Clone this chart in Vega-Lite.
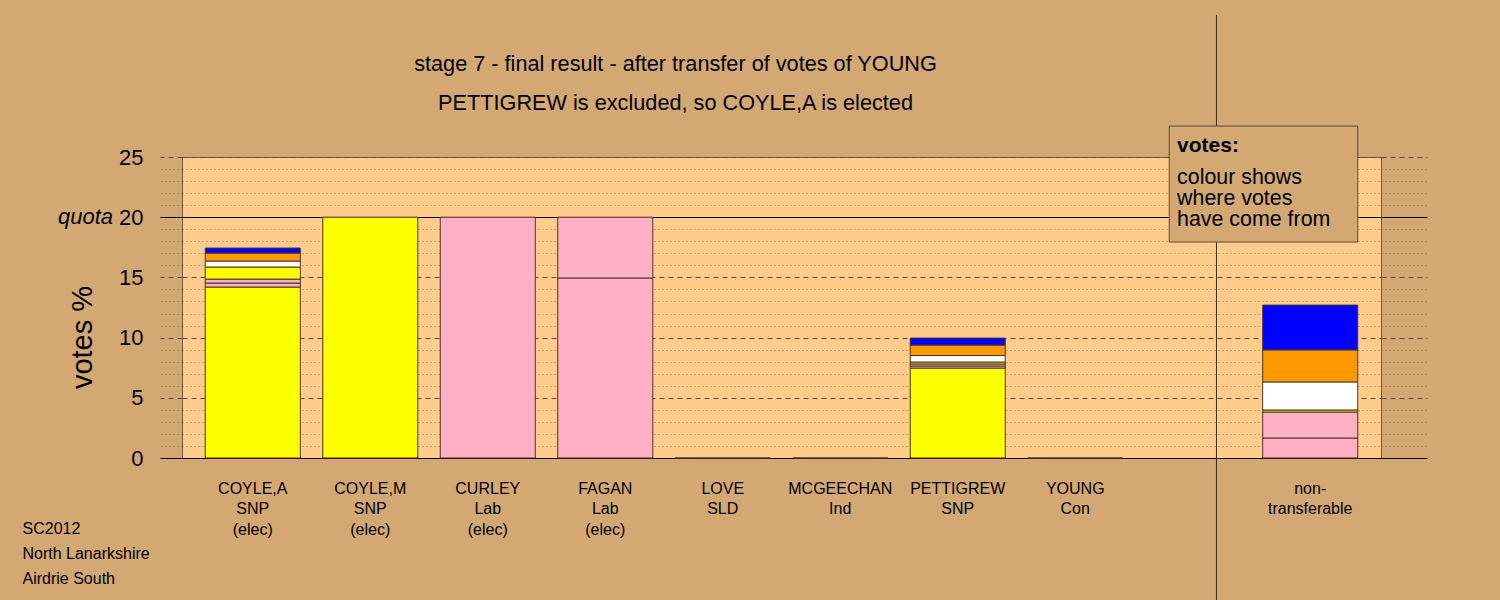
{
  "$schema": "https://vega.github.io/schema/vega-lite/v6.json",
  "width": 1199,
  "height": 301,
  "autosize": "none",
  "padding": {"left": 182, "top": 157, "right": 119, "bottom": 142},
  "background": "#d4a873",
  "config": {
    "font": "Liberation Sans",
    "view": {"fill": "#ffcc8c", "stroke": "#6e5a44", "strokeWidth": 1}
  },
  "title": {
    "text": ["stage 7 - final result - after transfer of votes of YOUNG", "PETTIGREW is excluded, so COYLE,A is elected"],
    "fontSize": 21.7,
    "fontWeight": "normal",
    "font": "Liberation Sans",
    "color": "#000000",
    "lineHeight": 39,
    "anchor": "middle",
    "baseline": "bottom",
    "dx": -106,
    "offset": -122
  },
  "data": {"values": [{}]},
  "datasets": {
    "votes": [
      {"candidate": "COYLE,A|SNP|(elec)", "party": "SNP", "seq": 1, "pct": 14.2},
      {"candidate": "COYLE,A|SNP|(elec)", "party": "Lab", "seq": 2, "pct": 0.33},
      {"candidate": "COYLE,A|SNP|(elec)", "party": "Lab", "seq": 3, "pct": 0.33},
      {"candidate": "COYLE,A|SNP|(elec)", "party": "SNP", "seq": 4, "pct": 1.0},
      {"candidate": "COYLE,A|SNP|(elec)", "party": "Ind", "seq": 5, "pct": 0.5},
      {"candidate": "COYLE,A|SNP|(elec)", "party": "SLD", "seq": 6, "pct": 0.66},
      {"candidate": "COYLE,A|SNP|(elec)", "party": "Con", "seq": 7, "pct": 0.42},
      {"candidate": "COYLE,M|SNP|(elec)", "party": "SNP", "seq": 1, "pct": 20.0},
      {"candidate": "CURLEY|Lab|(elec)", "party": "Lab", "seq": 1, "pct": 20.0},
      {"candidate": "FAGAN|Lab|(elec)", "party": "Lab", "seq": 1, "pct": 14.95},
      {"candidate": "FAGAN|Lab|(elec)", "party": "Lab", "seq": 2, "pct": 5.05},
      {"candidate": "LOVE|SLD", "party": "SLD", "seq": 1, "pct": 0},
      {"candidate": "MCGEECHAN|Ind", "party": "Ind", "seq": 1, "pct": 0},
      {"candidate": "PETTIGREW|SNP", "party": "SNP", "seq": 1, "pct": 7.47},
      {"candidate": "PETTIGREW|SNP", "party": "Lab", "seq": 2, "pct": 0.17},
      {"candidate": "PETTIGREW|SNP", "party": "Lab", "seq": 3, "pct": 0.17},
      {"candidate": "PETTIGREW|SNP", "party": "SNP", "seq": 4, "pct": 0.16},
      {"candidate": "PETTIGREW|SNP", "party": "Ind", "seq": 5, "pct": 0.54},
      {"candidate": "PETTIGREW|SNP", "party": "SLD", "seq": 6, "pct": 0.87},
      {"candidate": "PETTIGREW|SNP", "party": "Con", "seq": 7, "pct": 0.58},
      {"candidate": "YOUNG|Con", "party": "Con", "seq": 1, "pct": 0},
      {"candidate": "non-|transferable", "party": "Lab", "seq": 2, "pct": 1.66},
      {"candidate": "non-|transferable", "party": "Lab", "seq": 3, "pct": 2.16},
      {"candidate": "non-|transferable", "party": "SNP", "seq": 4, "pct": 0.17},
      {"candidate": "non-|transferable", "party": "Ind", "seq": 5, "pct": 2.33},
      {"candidate": "non-|transferable", "party": "SLD", "seq": 6, "pct": 2.66},
      {"candidate": "non-|transferable", "party": "Con", "seq": 7, "pct": 3.72}
    ]
  },
  "resolve": {"axis": {"y": "independent"}},
  "layer": [
    {
      "data": {"name": "votes"},
      "mark": {"type": "bar", "stroke": "#4a3626", "strokeWidth": 1},
      "encoding": {
        "x": {
          "field": "candidate",
          "type": "nominal",
          "sort": null,
          "scale": {
            "domain": ["COYLE,A|SNP|(elec)", "COYLE,M|SNP|(elec)", "CURLEY|Lab|(elec)", "FAGAN|Lab|(elec)", "LOVE|SLD", "MCGEECHAN|Ind", "PETTIGREW|SNP", "YOUNG|Con", " ", "non-|transferable"],
            "paddingInner": 0.191,
            "paddingOuter": 0.198
          },
          "axis": {
            "title": ["SC2012", "North Lanarkshire", "Airdrie South"],
            "titleX": -160,
            "titleY": 62,
            "titleAlign": "left",
            "titleAnchor": null,
            "titleBaseline": "top",
            "titleFontSize": 16,
            "titleFontWeight": "normal",
            "titleLineHeight": 25,
            "titleColor": "#000000",
            "titleAngle": 0,
            "labelExpr": "split(datum.label, '|')",
            "labelAngle": 0,
            "labelFontSize": 16,
            "labelLineHeight": 20.5,
            "labelColor": "#000000",
            "labelPadding": 22,
            "ticks": false,
            "domain": true,
            "domainColor": "#000000",
            "grid": false
          }
        },
        "y": {
          "field": "pct",
          "type": "quantitative",
          "stack": "zero",
          "scale": {"domain": [0, 25], "nice": false, "zero": true},
          "axis": {
            "title": "votes %",
            "titleFontSize": 29,
            "titleFontWeight": "normal",
            "titleColor": "#000000",
            "titlePadding": 21,
            "titleY": 180,
            "values": [0,1,2,3,4,5,6,7,8,9,10,11,12,13,14,15,16,17,18,19,20,21,22,23,24,25],
            "labelExpr": "datum.value % 5 === 0 ? datum.label : ''",
            "labelFontSize": 22,
            "labelColor": "#000000",
            "labelPadding": 17,
            "domain": false,
            "tickSize": 22,
            "tickColor": {"condition": {"test": "datum.value === 0 || datum.value === 20", "value": "#000000"}, "value": "#5e4c3a"},
            "tickDash": {"condition": [{"test": "datum.value === 0 || datum.value === 20", "value": []}, {"test": "datum.value % 5 === 0", "value": [5, 4]}], "value": [1, 3]},
            "tickWidth": 1,
            "tickOpacity": {"condition": {"test": "datum.value % 5 === 0", "value": 1}, "value": 0.7},
            "grid": true,
            "gridColor": {"condition": {"test": "datum.value === 0 || datum.value === 20", "value": "#000000"}, "value": "#5e4c3a"},
            "gridDash": {"condition": [{"test": "datum.value === 0 || datum.value === 20", "value": []}, {"test": "datum.value % 5 === 0", "value": [5, 4]}], "value": [1, 3]},
            "gridWidth": 1,
            "gridOpacity": {"condition": {"test": "datum.value % 5 === 0", "value": 1}, "value": 0.7}
          }
        },
        "color": {
          "field": "party",
          "type": "nominal",
          "scale": {"domain": ["SNP", "Lab", "Ind", "SLD", "Con"], "range": ["#ffff00", "#ffb0c4", "#ffffff", "#ff9900", "#0000ff"]},
          "legend": null
        },
        "order": {"field": "seq", "type": "quantitative", "sort": "ascending"}
      }
    },
    {
      "mark": {"type": "rule", "color": "#3a2e22", "strokeWidth": 1},
      "encoding": {
        "x": {"datum": " ", "type": "nominal", "bandPosition": 0.75},
        "y": {
          "datum": 36.8,
          "type": "quantitative",
          "scale": {"domain": [0, 25], "nice": false},
          "axis": {
            "orient": "right",
            "title": null,
            "values": [0,1,2,3,4,5,6,7,8,9,10,11,12,13,14,15,16,17,18,19,20,21,22,23,24,25],
            "labels": false,
            "domain": false,
            "grid": false,
            "tickSize": 46,
            "tickColor": {"condition": {"test": "datum.value === 0 || datum.value === 20", "value": "#000000"}, "value": "#5e4c3a"},
            "tickDash": {"condition": [{"test": "datum.value === 0 || datum.value === 20", "value": []}, {"test": "datum.value % 5 === 0", "value": [5, 4]}], "value": [1, 3]},
            "tickWidth": 1,
            "tickOpacity": {"condition": {"test": "datum.value % 5 === 0", "value": 1}, "value": 0.7}
          }
        },
        "y2": {"datum": -12}
      }
    },
    {
      "mark": {"type": "rect", "fill": "#d4a873", "stroke": "#5c4a36", "strokeWidth": 1},
      "encoding": {
        "x": {"datum": " ", "type": "nominal", "bandPosition": 0.253},
        "x2": {"datum": "non-|transferable", "bandPosition": 1},
        "y": {"datum": 27.57, "type": "quantitative", "axis": null},
        "y2": {"datum": 17.94}
      }
    },
    {
      "mark": {"type": "text", "align": "left", "baseline": "middle", "fontSize": 21, "fontWeight": "bold", "color": "#000000"},
      "encoding": {
        "x": {"datum": " ", "type": "nominal", "bandPosition": 0.335},
        "y": {"datum": 25.9, "type": "quantitative", "axis": null},
        "text": {"value": "votes:"}
      }
    },
    {
      "mark": {"type": "text", "align": "left", "baseline": "middle", "fontSize": 21.4, "lineHeight": 21, "color": "#000000"},
      "encoding": {
        "x": {"datum": " ", "type": "nominal", "bandPosition": 0.335},
        "y": {"datum": 23.26, "type": "quantitative", "axis": null},
        "text": {"value": ["colour shows", "where votes", "have come from"]}
      }
    },
    {
      "mark": {"type": "text", "align": "right", "baseline": "middle", "fontSize": 22, "fontStyle": "italic", "color": "#000000", "dx": -69},
      "encoding": {
        "x": {"value": 0},
        "y": {"datum": 20, "type": "quantitative", "axis": null},
        "text": {"value": "quota"}
      }
    }
  ]
}
